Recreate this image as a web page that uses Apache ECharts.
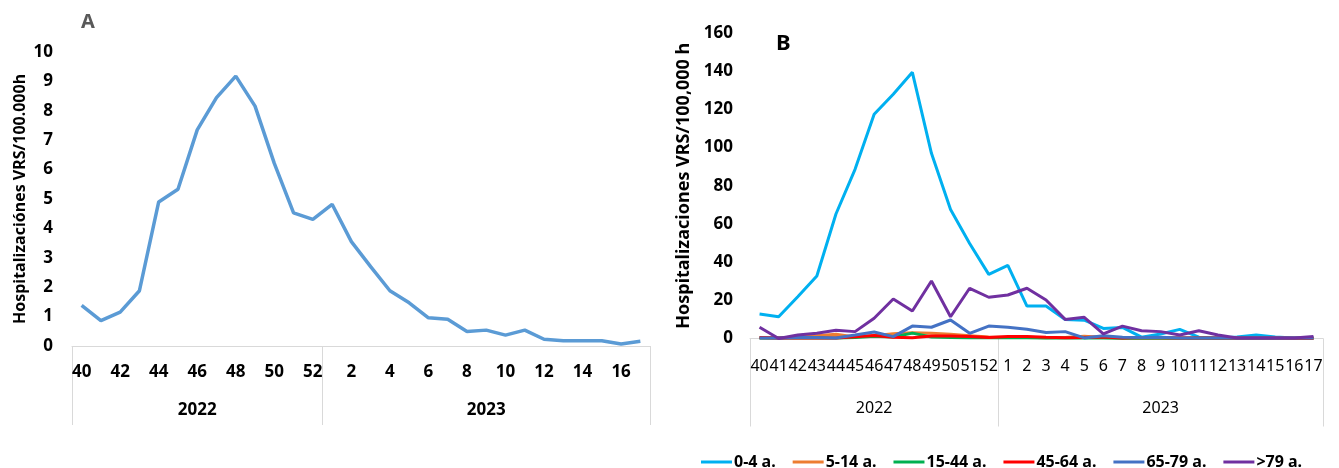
<!DOCTYPE html>
<html>
<head>
<meta charset="utf-8">
<script src="https://cdn.jsdelivr.net/npm/echarts@6/dist/echarts.min.js"></script>
<style>
  html, body { margin: 0; padding: 0; background: #ffffff; }
  #chart { width: 1339px; height: 468px; }
</style>
</head>
<body>
<div id="chart"></div>
<script>
// Epidemiological weeks of the 2022-2023 RSV season
const weeks2022 = ['40','41','42','43','44','45','46','47','48','49','50','51','52'];
const weeks2023 = ['1','2','3','4','5','6','7','8','9','10','11','12','13','14','15','16','17'];
const seasonYears = ['2022', '2023'];

// A: overall hospitalisation rate per 100,000 inhabitants
const rateTotal = [1.38, 0.86, 1.15, 1.88, 4.90, 5.33, 7.35, 8.45, 9.18, 8.16, 6.21, 4.53, 4.31,
                   4.82, 3.55, 2.70, 1.88, 1.47, 0.96, 0.91, 0.49, 0.54, 0.37, 0.54, 0.23, 0.18, 0.18, 0.18, 0.07, 0.16];

// B: hospitalisation rate by age group
const ageGroups = ['0-4 a.', '5-14 a.', '15-44 a.', '45-64 a.', '65-79 a.', '>79 a.'];
const age0to4 = [12.8, 11.4, 21.9, 32.7, 65.2, 88.6, 117.4, 127.9, 139.4, 97.0, 67.6, 49.8, 33.6,
                 38.3, 17.0, 17.0, 10.0, 9.6, 5.3, 5.8, 0.7, 2.4, 4.8, 0.7, 0.2, 0.8, 1.8, 0.8, 0.2, 0.3];
const age5to14 = [0.3, 0.3, 0.8, 1.5, 2.2, 0.8, 1.5, 2.5, 3.0, 2.8, 2.2, 1.5, 0.8,
                  0.6, 0.6, 0.4, 0.5, 1.2, 0.5, 0.3, 0.3, 0.2, 0.3, 0.2, 0.1, 0.1, 0.1, 0.1, 0.1, 0.1];
const age15to44 = [0.2, 0.2, 0.3, 0.3, 0.3, 0.5, 1.2, 0.8, 2.8, 0.8, 0.5, 0.4, 0.4,
                   0.4, 0.4, 0.3, 0.2, 0.2, 0.2, 0.1, 0.1, 0.1, 0.1, 0.1, 0.1, 0.1, 0.1, 0.1, 0.1, 0.1];
const age45to64 = [0.5, 0.3, 0.3, 0.3, 0.3, 0.9, 1.6, 0.7, 0.4, 1.3, 1.3, 1.1, 0.5,
                   1.0, 1.0, 0.6, 0.4, 0.5, 0.8, 0.3, 0.5, 0.4, 0.3, 0.3, 0.2, 0.2, 0.2, 0.2, 0.1, 0.1];
const age65to79 = [0.3, 0.3, 0.5, 0.5, 0.3, 1.8, 3.4, 1.0, 6.5, 5.9, 9.7, 2.7, 6.5,
                   5.9, 4.8, 3.1, 3.6, 0.3, 1.5, 0.6, 0.5, 0.6, 0.3, 0.3, 0.2, 0.2, 0.2, 0.2, 0.2, 0.2];
const age80plus = [5.9, 0.0, 1.8, 2.7, 4.3, 3.6, 10.6, 20.7, 14.4, 30.1, 11.4, 26.3, 21.6,
                   22.8, 26.3, 20.2, 10.0, 11.1, 2.4, 6.5, 4.1, 3.6, 1.8, 4.1, 1.8, 0.3, 0.2, 0.2, 0.2, 1.0];
const ageColors = ['#00B0F0', '#ED7D31', '#00B050', '#FF0000', '#4472C4', '#7030A0'];

const FONT = 'Noto Sans';
const weeks = weeks2022.concat(weeks2023);

// Year row under the week labels: one label centred on each year's block of weeks
const yearRow = weeks.map(() => '');
yearRow[Math.floor(weeks2022.length / 2)] = seasonYears[0];
yearRow[weeks2022.length + Math.floor(weeks2023.length / 2)] = seasonYears[1];
const yearBreak = (i) => i === 0 || i === weeks2022.length;

function weekAxis(grid, labelOpts) {
  return {
    gridIndex: grid, type: 'category', data: weeks, boundaryGap: true,
    axisLine: { lineStyle: { color: '#D9D9D9', width: 1 } },
    axisTick: { show: false },
    axisLabel: Object.assign({ color: '#000', fontFamily: FONT }, labelOpts)
  };
}
function yearAxis(grid, tickLen, labelOpts) {
  return {
    gridIndex: grid, type: 'category', data: yearRow, boundaryGap: true, position: 'bottom',
    axisLine: { show: false },
    axisTick: { show: true, interval: yearBreak, length: tickLen, lineStyle: { color: '#D9D9D9', width: 1 } },
    axisLabel: Object.assign({ interval: 0, color: '#000', fontFamily: FONT }, labelOpts)
  };
}
function rateAxis(grid, max, step, name, labelSize, nameSize, nameGap, margin) {
  return {
    gridIndex: grid, type: 'value', min: 0, max: max, interval: step,
    splitLine: { show: false }, axisLine: { show: false }, axisTick: { show: false },
    axisLabel: { color: '#000', fontFamily: FONT, fontWeight: 'bold', fontSize: labelSize, margin: margin },
    name: name, nameLocation: 'middle', nameRotate: 90, nameGap: nameGap,
    nameTextStyle: { color: '#000', fontFamily: FONT, fontWeight: 'bold', fontSize: nameSize }
  };
}

const ageSeries = [age0to4, age5to14, age15to44, age45to64, age65to79, age80plus].map((vals, k) => ({
  name: ageGroups[k], type: 'line', xAxisIndex: 2, yAxisIndex: 1,
  data: vals, symbol: 'none', smooth: false,
  itemStyle: { color: ageColors[k] },
  lineStyle: { color: ageColors[k], width: 3 }
}));

const chart = echarts.init(document.getElementById('chart'), null, { renderer: 'canvas' });
chart.setOption({
  animation: false,
  backgroundColor: '#ffffff',
  grid: [
    { left: 72, top: 52, width: 578, height: 294 },
    { left: 750, top: 33, width: 573, height: 305.5 }
  ],
  xAxis: [
    weekAxis(0, { interval: 1, margin: 18, fontSize: 17, fontWeight: 'bold' }),
    yearAxis(0, 79, { margin: 56, fontSize: 17, fontWeight: 'bold' }),
    weekAxis(1, { interval: 0, margin: 20, fontSize: 16 }),
    yearAxis(1, 88, { margin: 62, fontSize: 16 })
  ],
  yAxis: [
    rateAxis(0, 10, 1, 'Hospitalizaciónes VRS/100.000h', 17, 16, 44, 19),
    rateAxis(1, 160, 20, 'Hospitalizaciones VRS/100,000 h', 17, 18, 57, 17)
  ],
  legend: {
    left: 696, top: 449, icon: 'rect', itemWidth: 31, itemHeight: 3, itemGap: 17,
    data: ageGroups,
    textStyle: { color: '#000', fontFamily: FONT, fontWeight: 'bold', fontSize: 16, padding: [0, 0, 0, -3] }
  },
  graphic: [
    { type: 'text', left: 81, top: 12, style: { text: 'A', font: 'bold 20px "Noto Sans"', fill: '#595959' } },
    { type: 'text', left: 776, top: 33, style: { text: 'B', font: 'bold 22px "Noto Sans"', fill: '#000' } }
  ],
  series: [
    { name: 'Total', type: 'line', xAxisIndex: 0, yAxisIndex: 0, data: rateTotal,
      symbol: 'none', smooth: false, lineStyle: { color: '#5B9BD5', width: 3.5 }, itemStyle: { color: '#5B9BD5' } }
  ].concat(ageSeries)
});
</script>
</body>
</html>
